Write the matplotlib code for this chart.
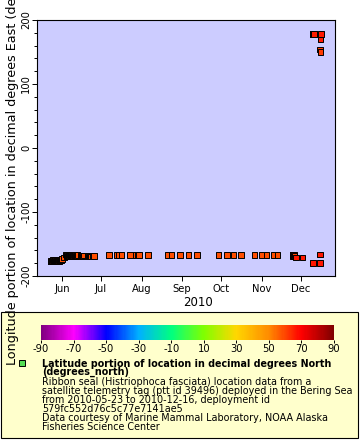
import matplotlib
matplotlib.use("Agg")
import matplotlib.pyplot as plt
import matplotlib.dates as mdates
from matplotlib.colors import LinearSegmentedColormap, Normalize
from matplotlib.cm import ScalarMappable
from matplotlib.ticker import MultipleLocator
from matplotlib.patches import Rectangle
from matplotlib.lines import Line2D
import pandas as pd

plt.rcParams["axes.unicode_minus"] = False

# ---- data (time, lon, lat) ----
obs_time = [
    # late May, Bering Sea start
    "2010-05-23 04:00", "2010-05-23 12:00", "2010-05-23 20:00", "2010-05-24 06:00", "2010-05-24 16:00",
    "2010-05-25 02:00", "2010-05-25 12:00", "2010-05-25 22:00", "2010-05-26 08:00", "2010-05-26 18:00",
    "2010-05-27 04:00", "2010-05-27 14:00", "2010-05-28 00:00", "2010-05-28 10:00", "2010-05-28 20:00",
    "2010-05-29 06:00", "2010-05-29 16:00", "2010-05-30 02:00", "2010-05-30 12:00", "2010-05-30 22:00",
    "2010-05-31 08:00", "2010-05-31 18:00", "2010-06-01 06:00", "2010-06-02 20:00",
    # early June
    "2010-06-04 02:00", "2010-06-04 14:00", "2010-06-05 02:00", "2010-06-05 14:00", "2010-06-06 02:00",
    "2010-06-06 14:00", "2010-06-07 02:00", "2010-06-07 14:00", "2010-06-08 02:00", "2010-06-08 14:00",
    "2010-06-09 02:00", "2010-06-09 14:00", "2010-06-10 02:00", "2010-06-10 14:00", "2010-06-11 02:00",
    "2010-06-11 14:00", "2010-06-12 02:00", "2010-06-12 14:00", "2010-06-13 02:00", "2010-06-15 04:00",
    "2010-06-16 12:00", "2010-06-17 00:00", "2010-06-17 14:00",
    "2010-06-21 00:00", "2010-06-21 12:00", "2010-06-22 00:00", "2010-06-22 12:00", "2010-06-23 00:00",
    "2010-06-23 12:00", "2010-06-24 12:00", "2010-06-25 12:00",
    # summer / autumn
    "2010-07-07 06:00", "2010-07-13 00:00", "2010-07-14 06:00", "2010-07-16 12:00", "2010-07-23 00:00",
    "2010-07-27 12:00", "2010-07-28 18:00", "2010-07-30 00:00", "2010-08-06 00:00", "2010-08-21 00:00",
    "2010-08-24 00:00", "2010-08-30 12:00", "2010-09-06 00:00", "2010-09-12 06:00", "2010-09-29 00:00",
    "2010-10-05 06:00", "2010-10-10 12:00", "2010-10-16 00:00", "2010-10-26 12:00", "2010-10-31 18:00",
    "2010-11-04 18:00", "2010-11-10 06:00", "2010-11-13 00:00",
    # late November / December
    "2010-11-24 12:00", "2010-11-24 18:00", "2010-11-25 00:00", "2010-11-25 06:00", "2010-11-25 12:00",
    "2010-11-25 18:00", "2010-11-26 00:00", "2010-11-27 00:00", "2010-12-02 07:00",
    "2010-12-09 18:00", "2010-12-10 00:00", "2010-12-10 03:00", "2010-12-10 06:00", "2010-12-10 12:00",
    "2010-12-10 18:00", "2010-12-11 00:00",
    "2010-12-15 08:00", "2010-12-15 12:00", "2010-12-15 16:00", "2010-12-15 18:00", "2010-12-15 21:00",
    "2010-12-16 02:00",
]
lon = [
    -177.3, -175.5, -177.6, -175.8, -177.0,
    -175.4, -177.4, -176.1, -175.3, -177.2,
    -175.6, -177.0, -175.2, -176.8, -175.0,
    -176.6, -174.9, -176.2, -174.6, -175.8,
    -174.4, -175.3, -173.5, -171.4,
    -166.5, -168.8, -166.8, -168.6, -166.6,
    -168.9, -166.9, -168.4, -166.7, -168.7,
    -167.0, -168.5, -166.8, -168.9, -167.1,
    -168.6, -166.9, -168.4, -167.4, -168.3,
    -168.0, -169.6, -168.3,
    -168.0, -169.8, -168.2, -169.6, -168.3,
    -169.7, -168.6, -168.8,
    -167.3, -167.0, -167.2, -167.0, -167.2,
    -167.1, -167.0, -167.2, -167.3, -167.2,
    -167.0, -167.2, -167.1, -167.2, -167.2,
    -167.0, -167.2, -167.3, -167.2, -167.0,
    -167.2, -167.1, -167.2,
    -167.4, -169.6, -167.6, -169.8, -167.5,
    -169.4, -168.2, -170.8, -170.8,
    178.2, 178.8, -179.7, 178.0, 178.9,
    178.3, 178.5,
    -179.7, -166.7, 154.0, 150.0, 170.3,
    178.1,
]
lat = [59.0] * 55 + [59.0] * 23 + [
    60.0, 60.0, 60.0, 60.0, 60.0,
    60.0, 60.0, 66.5, 66.5,
    66.0, 66.0, 66.5, 66.0, 66.0,
    66.0, 66.0,
    66.5, 66.5, 61.0, 61.5, 66.0,
    66.5,
]

cbar_ticks = [-90, -70, -50, -30, -10, 10, 30, 50, 70, 90]
rainbow_colors = ["#800080", "#ff00ff", "#0000ff", "#00b0ff", "#00ff80",
                  "#80ff00", "#ffd700", "#ff8c00", "#ff0000", "#800000"]

legend_title = ["Latitude portion of location in decimal degrees North",
                "(degrees_north)"]
legend_lines = ["Ribbon seal (Histriophoca fasciata) location data from a",
                "satellite telemetry tag (ptt id 39496) deployed in the Bering Sea",
                "from 2010-05-23 to 2010-12-16, deployment id",
                "579fc552d76c5c77e7141ae5",
                "Data courtesy of Marine Mammal Laboratory, NOAA Alaska",
                "Fisheries Science Center"]

W, H = 360, 440
t = pd.to_datetime(obs_time)

fig = plt.figure(figsize=(W / 100, H / 100), dpi=100)

# legend box behind everything
fig.patches.append(Rectangle((0.5 / W, 1 - 438 / H), 357.5 / W, 126 / H,
                             transform=fig.transFigure, facecolor="#ffffcc",
                             edgecolor="black", linewidth=0.8, zorder=-5))

ax = fig.add_axes([37 / W, 1 - 276 / H, 298 / W, 256 / H])
ax.set_facecolor("#ccccff")

cmap = LinearSegmentedColormap.from_list("erddap_rainbow", rainbow_colors)
norm = Normalize(-90, 90)
ax.scatter(t, lon, c=lat, cmap=cmap, norm=norm, marker="s", s=16,
           edgecolors="black", linewidths=0.7, zorder=3)

ax.set_xlim(pd.Timestamp("2010-05-13"), pd.Timestamp("2010-12-27"))
ax.set_ylim(-200, 200)
ax.xaxis.set_major_locator(mdates.MonthLocator())
ax.xaxis.set_major_formatter(mdates.DateFormatter("%b"))
ax.yaxis.set_major_locator(MultipleLocator(100))
ax.yaxis.set_minor_locator(MultipleLocator(20))
ax.tick_params(which="major", length=3.6, width=0.7, labelsize=7.2, pad=1.8)
ax.tick_params(which="minor", length=2, width=0.7)
ax.tick_params(axis="y", labelrotation=90, pad=0.5)
for lbl in ax.get_yticklabels():
    lbl.set_va("center")
for s in ax.spines.values():
    s.set_linewidth(0.8)

fig.text(198 / W, 1 - 302 / H, "2010", ha="center", va="center", fontsize=8.5)

# colorbar
cax = fig.add_axes([41 / W, 1 - 340 / H, 293 / W, 15 / H])
cb = fig.colorbar(ScalarMappable(norm=norm, cmap=cmap), cax=cax,
                  orientation="horizontal", ticks=cbar_ticks)
cb.outline.set_visible(False)
cax.tick_params(length=2, width=0.7, labelsize=7.2, pad=1)

# legend entry
fig.add_artist(Line2D([22 / W], [1 - 363 / H], marker="s", markersize=4.5,
                      markerfacecolor="#55dd55", markeredgecolor="black",
                      markeredgewidth=0.7, transform=fig.transFigure))
baselines = [366.5, 375, 385, 394, 402.5, 411.5, 421, 430]
for i, line in enumerate(legend_title + legend_lines):
    fig.text(42.3 / W, 1 - baselines[i] / H, line, ha="left", va="baseline",
             fontsize=6.9, fontweight="bold" if i < 2 else "normal")

# long y label, drawn over the legend box as in the reference
fig.text(13 / W, 75 / H,
         "Longitude portion of location in decimal degrees East (degrees_east)",
         rotation=90, ha="center", va="bottom", fontsize=9.2, zorder=10)

fig.savefig("out.png", dpi=100)
